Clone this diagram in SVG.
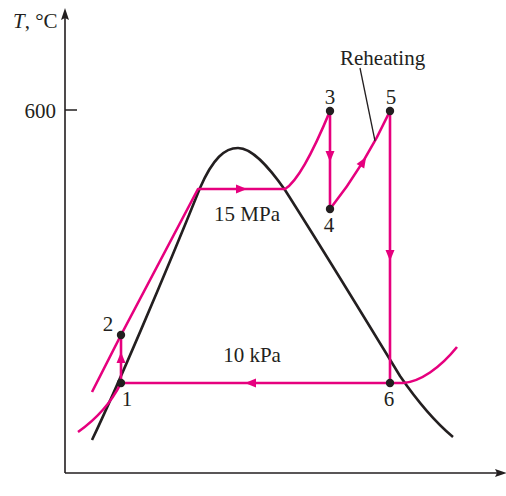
<svg xmlns="http://www.w3.org/2000/svg" xmlns:xlink="http://www.w3.org/1999/xlink" width="506" height="496" viewBox="0 0 506 496">
<style>
.ax{fill:none;stroke:#231f20;stroke-width:1.6}
.dome{fill:none;stroke:#231f20;stroke-width:2.6;stroke-linecap:butt}
.pk{fill:none;stroke:#e6007e;stroke-width:2.6;stroke-linejoin:round}
.lead{fill:none;stroke:#231f20;stroke-width:1.3}
.dot{fill:#231f20}
.t{font-family:"Liberation Serif","Times New Roman",serif;font-size:21px;fill:#231f20}
</style>
<defs>
<path id="ah" d="M6,0 L-5,-4.5 L-5,4.5 Z" fill="#e6007e"/>
<path id="axh" d="M7,0 L-5,-4 L-3,0 L-5,4 Z" fill="#231f20"/>
</defs>
<rect width="506" height="496" fill="#ffffff"/>
<g id="axes">
<path class="ax" d="M65,473 V18 M65,473 H500 M65,110 H77"/>
<use xlink:href="#axh" transform="translate(65,15) rotate(-90)"/>
<use xlink:href="#axh" transform="translate(500,473)"/>
<text class="t" x="13" y="28"><tspan font-style="italic">T</tspan>, °C</text>
<text class="t" x="56" y="118" text-anchor="end">600</text>
</g>
<g id="dome">
<path class="dome" d="M92,440 C115,392 165,275 200,188 C213,158 225,148 238,148 C252,148 268,166 285,190 C320,245 372,330 400,376 C420,405 435,422 453,437"/>
</g>
<g id="connectors">
<path class="pk" d="M78,432 C95,420 110,405 121,383"/>
<path class="pk" d="M92,392 L121,335 L198,189 L285,189 C300,180 318,140 330,111"/>
<path class="pk" d="M330,111 L330,209"/>
<path class="pk" d="M330,209 Q365,165 390,111"/>
<path class="pk" d="M390,111 L390,383"/>
<path class="pk" d="M390,383 L121,383"/>
<path class="pk" d="M390,383 L403,383 C420,382 440,368 457,347"/>
<path class="pk" d="M121,383 L121,335"/>
<use xlink:href="#ah" transform="translate(241,189)"/>
<use xlink:href="#ah" transform="translate(330,156) rotate(90)"/>
<use xlink:href="#ah" transform="translate(363,162) rotate(-58.5)"/>
<use xlink:href="#ah" transform="translate(390,255) rotate(90)"/>
<use xlink:href="#ah" transform="translate(251,383) rotate(180)"/>
<use xlink:href="#ah" transform="translate(121,358) rotate(-90)"/>
<path class="lead" d="M360,68 L375,141"/>
</g>
<g id="labels">
<text class="t" x="340" y="65">Reheating</text>
<text class="t" x="247" y="221" text-anchor="middle">15 MPa</text>
<text class="t" x="252" y="362" text-anchor="middle">10 kPa</text>
</g>
<g id="n1"><circle class="dot" cx="121" cy="383" r="4.2"/><text class="t" x="127" y="406" text-anchor="middle">1</text></g>
<g id="n2"><circle class="dot" cx="121" cy="335" r="4.2"/><text class="t" x="108" y="331" text-anchor="middle">2</text></g>
<g id="n3"><circle class="dot" cx="330" cy="111" r="4.2"/><text class="t" x="330" y="104" text-anchor="middle">3</text></g>
<g id="n4"><circle class="dot" cx="330" cy="209" r="4.2"/><text class="t" x="329" y="232" text-anchor="middle">4</text></g>
<g id="n5"><circle class="dot" cx="390" cy="111" r="4.2"/><text class="t" x="391" y="104" text-anchor="middle">5</text></g>
<g id="n6"><circle class="dot" cx="390" cy="383" r="4.2"/><text class="t" x="389" y="406" text-anchor="middle">6</text></g>
</svg>
